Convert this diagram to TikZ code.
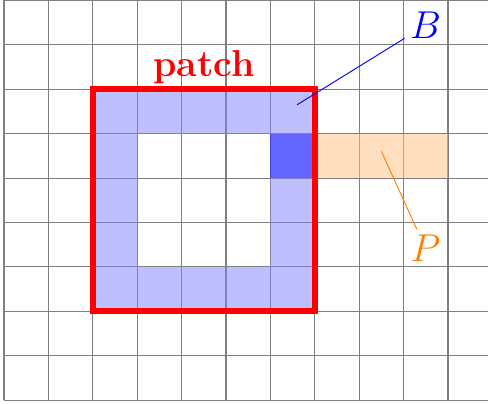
\documentclass[tikz,border=0pt]{standalone}
\begin{document}
\begin{tikzpicture}[x=1cm,y=1cm,
  gridline/.style={gray,line width=0.7pt},
  ringcell/.style={fill=blue!50,fill opacity=0.5},
  darkcell/.style={fill=blue,fill opacity=0.47},
  pcell/.style={fill=orange!50,fill opacity=0.5},
  patchbox/.style={red,line width=4pt},
  biglabel/.style={font=\fontsize{24}{29}\selectfont,inner sep=0.12cm}]
\useasboundingbox (-0.09,-0.07) rectangle (10.9,9.01);
\draw[gridline] (0,0) grid (10.9,9);
% ring of blue cells
\fill[ringcell] (2,2) -- (7,2) -- (7,7) -- (2,7) -- cycle (3,3) -- (3,6) -- (6,6) -- (6,3) -- cycle;
\fill[darkcell] (6,5) rectangle (7,6);
\fill[pcell] (7,5) rectangle (10,6);
\draw[patchbox] (2,2) rectangle (7,7);
\node[biglabel,red,anchor=base,font=\fontsize{24}{29}\selectfont\bfseries] (patch) at (4.5,7.29) {patch};
\node[biglabel,blue,anchor=base west] (B) at (9.02,8.14) {$B$};
\node[biglabel,orange,anchor=base west] (P) at (9.03,3.12) {$P$};
\coordinate (bpt) at (6.6,6.65);
\coordinate (ppt) at (8.5,5.6);
\draw[blue,line width=0.6pt] (bpt) -- (B);
\draw[orange,line width=0.6pt] (ppt) -- (P);
\end{tikzpicture}
\end{document}
